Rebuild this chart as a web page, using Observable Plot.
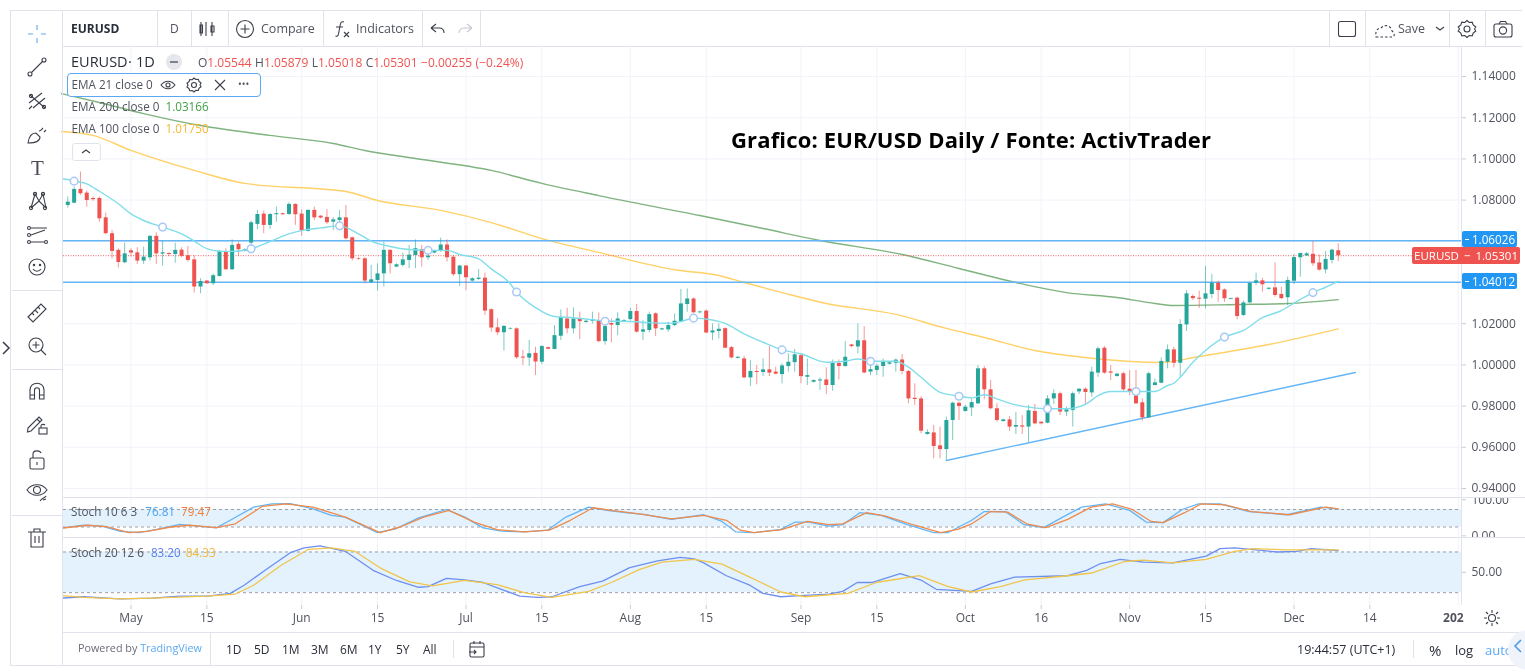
<!DOCTYPE html>
<html lang="en">
<head>
<meta charset="utf-8">
<title>EURUSD 1D</title>
<script src="https://cdn.jsdelivr.net/npm/d3@7"></script>
<script src="https://cdn.jsdelivr.net/npm/@observablehq/plot@0.6"></script>
<style>
  html, body { margin: 0; padding: 0; background: #fff; overflow: hidden; }
  #page { position: absolute; left: 0; top: 0; width: 1525px; height: 672px; overflow: hidden; font-family: 'Open Sans', sans-serif; color: #50535e; filter: blur(0.4px); }
  .panel { position: absolute; left: 0; overflow: hidden; }
  .panel svg { display: block; }
  .t { position: absolute; white-space: nowrap; line-height: 1; transform: translateY(-50%); font-size: 11.7px; }
  .h { position: absolute; height: 1px; background: #e0e3eb; }
  .v { position: absolute; width: 1px; background: #e0e3eb; }
  .tag { position: absolute; line-height: 16px; color: #fff; font-size: 11.7px; border-radius: 2px; text-align: center; }
  .ic { position: absolute; fill: none; stroke: #3c3f4a; stroke-width: 1.1; }
  #legendBox { position: absolute; left: 67px; top: 73px; width: 192px; height: 22px; border: 1px solid #5aa9f2; border-radius: 4px; background: #fff; }
  #note { position: absolute; left: 731px; top: 124px; font: bold 22px 'Open Sans', sans-serif; letter-spacing: 0.15px; color: #000; white-space: nowrap; }
</style>
</head>
<body>
<div id="page">
  <div id="main" class="panel" style="top:47px"></div>
  <div id="stoch1" class="panel" style="top:498px"></div>
  <div id="stoch2" class="panel" style="top:538px"></div>
  <div id="chrome"></div>
</div>

<script>
// daily candles
const opens = [1.0774,1.0785,1.0852,1.0834,1.0808,1.0808,1.0714,1.0637,1.0556,1.0496,1.0554,1.0544,1.0504,1.0520,1.0624,1.0538,1.0541,1.0536,1.0557,1.0530,
  1.0510,1.0378,1.0407,1.0394,1.0429,1.0548,1.0462,1.0585,1.0551,1.0591,1.0682,1.0732,1.0677,1.0729,1.0734,1.0730,1.0779,1.0732,1.0648,1.0750,
  1.0722,1.0716,1.0693,1.0701,1.0714,1.0617,1.0515,1.0515,1.0400,1.0410,1.0442,1.0556,1.0475,1.0483,1.0507,1.0531,1.0559,1.0520,1.0543,1.0551,
  1.0582,1.0523,1.0438,1.0480,1.0407,1.0415,1.0421,1.0268,1.0180,1.0156,1.0174,1.0175,1.0038,1.0033,1.0056,1.0013,1.0084,1.0075,1.0139,1.0223,
  1.0175,1.0223,1.0206,1.0212,1.0215,1.0113,1.0201,1.0191,1.0207,1.0220,1.0259,1.0159,1.0167,1.0248,1.0170,1.0170,1.0191,1.0210,1.0293,1.0320,
  1.0253,1.0261,1.0155,1.0162,1.0176,1.0084,1.0032,1.0029,0.9937,0.9968,0.9963,0.9976,0.9965,0.9953,0.9992,1.0011,1.0045,0.9940,0.9916,0.9922,
  0.9927,0.9900,1.0007,0.9992,1.0097,1.0087,1.0117,0.9965,0.9973,0.9992,1.0003,1.0008,1.0024,0.9968,0.9838,0.9835,0.9662,0.9670,0.9607,0.9589,
  0.9730,0.9814,0.9774,0.9791,0.9811,0.9981,0.9879,0.9787,0.9725,0.9733,0.9698,0.9704,0.9698,0.9774,0.9722,0.9717,0.9835,0.9860,0.9771,0.9779,
  0.9869,0.9882,0.9864,0.9960,1.0081,0.9966,0.9944,0.9957,0.9882,0.9882,0.9816,0.9743,0.9900,0.9911,1.0013,1.0073,1.0008,1.0194,1.0332,1.0324,
  1.0319,1.0342,1.0397,1.0364,1.0318,1.0324,1.0240,1.0301,1.0397,1.0408,1.0367,1.0374,1.0342,1.0326,1.0406,1.0520,1.0529,1.0537,1.0495,1.0461,
  1.0507,1.0554];
const highs = [1.0815,1.0863,1.0936,1.0844,1.0815,1.0815,1.0737,1.0653,1.0564,1.0591,1.0564,1.0569,1.0572,1.0628,1.0641,1.0601,1.0544,1.0591,1.0569,1.0575,
  1.0530,1.0418,1.0410,1.0442,1.0556,1.0564,1.0607,1.0596,1.0564,1.0698,1.0750,1.0747,1.0734,1.0766,1.0737,1.0787,1.0782,1.0753,1.0753,1.0766,
  1.0724,1.0753,1.0714,1.0750,1.0774,1.0620,1.0520,1.0520,1.0483,1.0491,1.0596,1.0559,1.0491,1.0543,1.0580,1.0607,1.0580,1.0556,1.0556,1.0616,
  1.0607,1.0531,1.0483,1.0483,1.0423,1.0463,1.0446,1.0272,1.0224,1.0191,1.0180,1.0180,1.0070,1.0119,1.0086,1.0094,1.0086,1.0191,1.0267,1.0275,
  1.0277,1.0256,1.0215,1.0256,1.0253,1.0199,1.0223,1.0253,1.0220,1.0275,1.0293,1.0215,1.0256,1.0253,1.0178,1.0207,1.0248,1.0366,1.0369,1.0325,
  1.0261,1.0267,1.0199,1.0199,1.0180,1.0089,1.0041,1.0041,1.0021,0.9997,1.0029,1.0089,0.9989,1.0005,1.0054,1.0075,1.0050,1.0029,0.9927,0.9937,
  0.9986,1.0024,1.0024,1.0113,1.0100,1.0199,1.0186,0.9997,1.0005,1.0029,1.0013,1.0029,1.0050,0.9973,0.9908,0.9846,0.9685,0.9706,0.9698,0.9746,
  0.9819,0.9819,0.9803,0.9835,0.9997,0.9992,0.9924,0.9811,0.9737,0.9749,0.9770,0.9754,0.9803,0.9808,0.9722,0.9851,0.9879,0.9868,0.9795,0.9868,
  0.9885,0.9889,0.9989,1.0086,1.0089,0.9997,0.9960,0.9965,0.9973,0.9973,0.9835,0.9965,0.9932,1.0034,1.0097,1.0086,1.0219,1.0361,1.0340,1.0358,
  1.0479,1.0439,1.0406,1.0369,1.0324,1.0329,1.0309,1.0402,1.0445,1.0421,1.0374,1.0495,1.0377,1.0426,1.0536,1.0542,1.0546,1.0599,1.0534,1.0550,
  1.0562,1.0588];
const lows = [1.0761,1.0782,1.0823,1.0766,1.0794,1.0693,1.0632,1.0515,1.0470,1.0491,1.0523,1.0488,1.0488,1.0504,1.0488,1.0480,1.0526,1.0494,1.0520,1.0499,
  1.0349,1.0345,1.0391,1.0386,1.0426,1.0458,1.0458,1.0526,1.0548,1.0564,1.0656,1.0637,1.0656,1.0693,1.0726,1.0726,1.0677,1.0624,1.0645,1.0701,
  1.0709,1.0682,1.0653,1.0653,1.0607,1.0504,1.0507,1.0394,1.0394,1.0358,1.0378,1.0442,1.0472,1.0475,1.0467,1.0467,1.0475,1.0507,1.0539,1.0546,
  1.0499,1.0429,1.0381,1.0361,1.0402,1.0410,1.0240,1.0159,1.0143,1.0067,1.0170,1.0027,0.9997,0.9993,0.9949,1.0002,1.0073,1.0073,1.0118,1.0151,
  1.0151,1.0123,1.0202,1.0199,1.0107,1.0096,1.0107,1.0142,1.0204,1.0212,1.0155,1.0118,1.0155,1.0138,1.0167,1.0159,1.0186,1.0207,1.0256,1.0248,
  1.0248,1.0151,1.0118,1.0126,1.0078,1.0029,1.0029,0.9932,0.9895,0.9903,0.9943,0.9943,0.9952,0.9908,0.9965,0.9965,0.9908,0.9900,0.9911,0.9876,
  0.9856,0.9872,0.9927,0.9989,1.0083,1.0054,0.9956,0.9948,0.9948,0.9940,1.0000,0.9965,0.9953,0.9811,0.9803,0.9665,0.9659,0.9544,0.9544,0.9536,
  0.9633,0.9730,0.9770,0.9749,0.9808,0.9831,0.9782,0.9722,0.9722,0.9677,0.9662,0.9662,0.9622,0.9709,0.9709,0.9714,0.9808,0.9754,0.9749,0.9698,
  0.9856,0.9803,0.9843,0.9940,0.9954,0.9924,0.9940,0.9868,0.9851,0.9808,0.9727,0.9741,0.9897,0.9908,0.9981,0.9986,0.9937,1.0162,1.0313,1.0274,
  1.0272,1.0321,1.0304,1.0304,1.0316,1.0219,1.0235,1.0296,1.0385,1.0353,1.0364,1.0329,1.0317,1.0288,1.0390,1.0426,1.0526,1.0478,1.0455,1.0442,
  1.0491,1.0502];
const closes = [1.0790,1.0852,1.0831,1.0798,1.0802,1.0709,1.0637,1.0551,1.0497,1.0539,1.0543,1.0504,1.0523,1.0624,1.0539,1.0544,1.0536,1.0556,1.0527,1.0507,
  1.0378,1.0405,1.0394,1.0433,1.0551,1.0462,1.0580,1.0559,1.0559,1.0690,1.0730,1.0677,1.0730,1.0734,1.0729,1.0779,1.0729,1.0650,1.0750,1.0714,
  1.0713,1.0690,1.0704,1.0714,1.0612,1.0515,1.0512,1.0407,1.0413,1.0442,1.0556,1.0491,1.0486,1.0510,1.0533,1.0564,1.0520,1.0528,1.0550,1.0582,
  1.0520,1.0438,1.0480,1.0423,1.0418,1.0421,1.0261,1.0179,1.0156,1.0187,1.0177,1.0035,1.0033,1.0054,1.0014,1.0089,1.0076,1.0142,1.0231,1.0175,
  1.0223,1.0210,1.0212,1.0220,1.0113,1.0186,1.0193,1.0223,1.0215,1.0259,1.0159,1.0170,1.0244,1.0175,1.0175,1.0191,1.0212,1.0296,1.0320,1.0253,
  1.0257,1.0155,1.0165,1.0173,1.0081,1.0034,1.0037,0.9937,0.9968,0.9963,0.9976,0.9960,0.9955,0.9995,1.0013,1.0049,0.9943,0.9948,0.9924,0.9927,
  0.9900,1.0008,0.9992,1.0037,1.0089,1.0117,0.9961,0.9977,0.9994,1.0013,1.0010,1.0023,0.9968,0.9835,0.9832,0.9678,0.9672,0.9604,0.9589,0.9730,
  0.9814,0.9798,0.9795,0.9817,0.9981,0.9879,0.9787,0.9730,0.9733,0.9698,0.9706,0.9698,0.9777,0.9714,0.9714,0.9835,0.9860,0.9771,0.9782,0.9860,
  0.9882,0.9866,0.9965,1.0078,0.9960,0.9960,0.9955,0.9879,0.9871,0.9811,0.9743,0.9957,0.9913,1.0017,1.0073,1.0008,1.0196,1.0345,1.0322,1.0319,
  1.0345,1.0397,1.0361,1.0321,1.0322,1.0235,1.0301,1.0395,1.0408,1.0389,1.0372,1.0337,1.0322,1.0410,1.0521,1.0541,1.0539,1.0491,1.0460,1.0512,
  1.0557,1.0530];

// moving averages as [bar, price]
const ema21 = [[-1,1.0905],[0,1.0900],[1,1.0892],[3,1.0879],[5,1.0843],[8,1.0782],[10,1.0733],[12,1.0701],[15,1.0669],[18,1.0636],[20,1.0601],[22,1.0564],[24,1.0552],[26,1.0551],[29,1.0564],[32,1.0599],[35,1.0636],[37,1.0652],[40,1.0665],[43,1.0675],[46,1.0636],[48,1.0601],[51,1.0575],[54,1.0560],[57,1.0556],[60,1.0556],[62,1.0536],[65,1.0515],[67,1.0466],[70,1.0394],[71,1.0354],[74,1.0278],[77,1.0235],[80,1.0229],[84,1.0216],[85,1.0212],[88,1.0212],[91,1.0207],[95,1.0202],[97,1.0210],[99,1.0227],[102,1.0218],[104,1.0202],[107,1.0151],[110,1.0110],[113,1.0073],[116,1.0054],[120,1.0013],[123,1.0018],[125,1.0029],[127,1.0018],[131,1.0018],[133,0.9989],[135,0.9940],[138,0.9867],[140,0.9853],[141,0.9848],[143,0.9840],[145,0.9855],[147,0.9835],[150,0.9806],[152,0.9795],[155,0.9787],[158,0.9787],[161,0.9808],[163,0.9851],[165,0.9871],[169,0.9871],[172,0.9871],[174,0.9900],[175,0.9911],[176,0.9940],[178,1.0013],[180,1.0070],[183,1.0135],[186,1.0167],[189,1.0229],[192,1.0264],[194,1.0300],[197,1.0351],[199,1.0377],[201,1.0405]];
const ema100 = [[-1,1.1133],[4,1.1114],[10,1.1041],[20,1.0944],[28,1.0881],[44,1.0842],[49,1.0798],[59,1.0750],[67,1.0691],[75,1.0613],[84,1.0546],[96,1.0462],[103,1.0434],[107,1.0400],[113,1.0351],[120,1.0298],[131,1.0245],[139,1.0177],[145,1.0133],[153,1.0070],[161,1.0036],[173,1.0012],[179,1.0041],[190,1.0099],[201,1.0175]];
const ema200 = [[-1,1.1317],[5,1.1274],[12,1.1220],[21,1.1162],[32,1.1114],[42,1.1075],[47,1.1041],[55,1.1002],[67,1.0944],[75,1.0881],[84,1.0822],[100,1.0725],[110,1.0662],[119,1.0604],[132,1.0536],[141,1.0468],[150,1.0400],[158,1.0351],[166,1.0327],[172,1.0298],[175,1.0288],[185,1.0293],[193,1.0298],[201,1.0317]];
const ema21Markers = [1,15,29,43,57,71,85,99,113,127,141,155,169,183,197];

// drawings
const levels = [1.06026, 1.04012];
const lastPrice = 1.05301;
const trend = [[139,0.9536],[203.7,0.9963]];

// stochastics as [bar, value]
const stoch10K = [[-1,16],[2.5,26],[5.4,23],[8.3,5],[11.2,1],[14.1,12],[17.7,29],[20.6,23],[23.5,17],[25.7,43],[29.4,88],[32.3,99],[35.2,100],[38.8,82],[41.7,60],[43.9,54],[49,1],[51.9,14],[55.5,51],[59.9,80],[62.8,54],[65.7,17],[68.6,6],[72.2,3],[75.9,9],[78.8,54],[82.4,88],[85.3,77],[88.2,69],[91.1,63],[95.5,46],[100.6,62],[103.5,39],[105.7,3],[108.6,1],[112.8,12],[115.1,37],[117.3,37],[120.4,23],[122.6,28],[125.3,69],[128.7,60],[132.5,31],[137,1],[139.3,1],[143,43],[145,73],[148.3,73],[151.3,28],[154.4,18],[157.4,54],[160.4,88],[164.2,99],[168,77],[170.6,37],[173.3,35],[176.3,80],[178.9,99],[182.3,99],[186.9,73],[192.9,62],[198.2,88],[201,81]];
const stoch10D = [[-1,16],[3.2,26],[6.1,21],[9.7,1],[12.6,5],[16.3,20],[19.2,26],[23.5,18],[26.5,31],[30.8,91],[34.5,99],[38.8,88],[43.9,54],[49.4,1],[52.6,20],[56.3,54],[60.3,77],[64.3,37],[67.9,11],[72.2,3],[76.2,9],[79.5,43],[83.1,86],[86,77],[90.4,65],[95.5,48],[100.6,60],[104.2,43],[106.4,9],[108.6,1],[112.8,10],[117,39],[120.4,28],[122.6,31],[126.4,69],[129.4,57],[134,26],[138.1,1],[140.8,12],[143,31],[146,73],[148.7,71],[151.7,31],[154.7,18],[158.2,46],[161.9,88],[165.3,99],[168.4,80],[171.4,39],[173.3,35],[176.7,69],[179.3,99],[183.1,96],[187.3,73],[193.3,62],[199,88],[201,82]];
const stoch20K = [[-1,12],[2.5,14],[8.3,11],[13.4,12],[17.7,15],[22.1,15],[25.7,19],[27.9,31],[31.5,55],[35.2,79],[37.4,86],[39.9,89],[43.9,81],[48.3,53],[52,38],[55.5,28],[57,29],[59.9,41],[62.8,39],[65.7,35],[68.6,25],[71.5,15],[74.4,13],[76.6,14],[81,29],[84.6,37],[88.9,57],[93.3,67],[96.9,72],[99.1,70],[100.6,64],[104.2,45],[107.9,31],[110,19],[112.8,14],[116.6,16],[120.4,18],[122.6,22],[124.9,35],[127.2,35],[131.7,48],[135.1,38],[137.4,25],[143,22],[146,33],[149.8,43],[158.2,45],[161.2,53],[163.4,63],[166.5,69],[170.2,65],[174.8,64],[180.1,74],[182.3,85],[184.6,86],[191.4,80],[194.4,81],[196.7,85],[201,82]];
const stoch20D = [[-1,16],[2.5,13],[8.3,11],[13.4,12],[22.1,15],[26.5,18],[29.4,31],[33.7,60],[38.1,84],[41.7,86],[45.4,81],[49.7,55],[54.1,36],[57.7,30],[62.8,38],[67.9,32],[72.2,20],[76.6,13],[82.4,22],[86,35],[90.4,54],[94,65],[99.1,69],[103.5,62],[107.9,43],[112.8,21],[116.6,14],[123.4,19],[127.9,35],[134.7,45],[139.3,29],[143,21],[147.6,29],[151.4,39],[158.2,45],[162,49],[167.2,66],[170.2,68],[174.8,64],[180.1,69],[184.6,81],[187.6,85],[192.9,83],[201,83]];
const stochBand = [20, 80];

// axes
const priceTicks = [0.94,0.96,0.98,1.00,1.02,1.04,1.06,1.08,1.10,1.12,1.14];
const priceTickLabels = [0.94,0.96,0.98,1.00,1.02,1.08,1.10,1.12,1.14]; // 1.04 and 1.06 sit under the level tags
const timeBars = [10,22,37,49,63,75,89,101,116,128,142,154,168,180,194,206];
const timeLabels = ["May","15","Jun","15","Jul","15","Aug","15","Sep","15","Oct","16","Nov","15","Dec","14"];
const nextYearBar = 220;
const barDomain = [-0.68, 220.5];

const up = "#26a69a", down = "#ef5350", gridColor = "#f0f3fa", axisText = "#50535e";
const candles = opens.map((o, i) => ({i, o, h: highs[i], l: lows[i], c: closes[i]}));
const W = 1525, marginLeft = 63, marginRight = 64;
const px = d => d[0], py = d => d[1];

function base(height, yDomain, yTicks, marks, extra = {}) {
  return Plot.plot({
    width: W, height, marginLeft, marginRight, marginTop: 0, marginBottom: extra.marginBottom || 0,
    style: {fontSize: "12px", fontFamily: "'Open Sans', sans-serif", background: "transparent"},
    x: {domain: barDomain, axis: null},
    y: {domain: yDomain, axis: null},
    marks: [
      Plot.gridX(timeBars.concat(nextYearBar), {stroke: gridColor, strokeOpacity: 1}),
      Plot.gridY(yTicks, {stroke: gridColor, strokeOpacity: 1}),
      ...marks,
      Plot.ruleX([barDomain[1]], {stroke: "#e0e3eb"})
    ]
  });
}

const main = base(450, [0.93563, 1.15408], priceTicks, [
  Plot.line(ema200, {x: px, y: py, stroke: "#7fb37f", strokeWidth: 1.4, curve: "monotone-x"}),
  Plot.line(ema100, {x: px, y: py, stroke: "#ffd166", strokeWidth: 1.4, curve: "monotone-x"}),
  Plot.ruleY(levels, {stroke: "#64b5f6", strokeWidth: 1.3}),
  Plot.ruleY([lastPrice], {stroke: "#ef5350", strokeWidth: 1, strokeDasharray: "1,1.5", strokeOpacity: 0.9}),
  Plot.line(trend, {x: px, y: py, stroke: "#64b5f6", strokeWidth: 1.4}),
  Plot.ruleX(candles, {x: "i", y1: "l", y2: "h", stroke: d => d.c >= d.o ? up : down, strokeWidth: 1, strokeOpacity: 0.6}),
  Plot.ruleX(candles, {x: "i", y1: "o", y2: "c", stroke: d => d.c >= d.o ? up : down, strokeWidth: 4}),
  Plot.line(ema21, {x: px, y: py, stroke: "#80deea", strokeWidth: 1.4, curve: "monotone-x", clip: true}),
  Plot.dot(ema21.filter(d => ema21Markers.includes(d[0])), {x: px, y: py, r: 3.8, fill: "#fff", stroke: "#a8c8f5", strokeWidth: 1.5}),
  Plot.axisY(priceTickLabels, {anchor: "right", tickFormat: d3.format(".5f"), tickSize: 4, tickPadding: 6, stroke: "#c8ccd6", color: axisText, label: null})
]);
document.getElementById("main").appendChild(main);

const s1 = base(39, [-16, 117.7], [], [
  Plot.rect([stochBand], {x1: barDomain[0], x2: barDomain[1], y1: d => d[0], y2: d => d[1], fill: "#e3f2fd"}),
  Plot.ruleY(stochBand, {stroke: "#9a9da8", strokeDasharray: "3,3", strokeWidth: 1}),
  Plot.line(stoch10K, {x: px, y: py, stroke: "#64b5f6", strokeWidth: 1.3, clip: true}),
  Plot.line(stoch10D, {x: px, y: py, stroke: "#f08a4b", strokeWidth: 1.3, clip: true}),
  Plot.axisY([100], {anchor: "right", tickFormat: d3.format(".2f"), tickSize: 4, tickPadding: 6, stroke: "#c8ccd6", color: axisText, label: null, dy: -4}),
  Plot.axisY([0], {anchor: "right", tickFormat: d3.format(".2f"), tickSize: 4, tickPadding: 6, stroke: "#c8ccd6", color: axisText, label: null, dy: 3})
]);
document.getElementById("stoch1").appendChild(s1);

const s2 = base(94, [1.1, 99.9], [], [
  Plot.rect([stochBand], {x1: barDomain[0], x2: barDomain[1], y1: d => d[0], y2: d => d[1], fill: "#e3f2fd"}),
  Plot.ruleY(stochBand, {stroke: "#9a9da8", strokeDasharray: "3,3", strokeWidth: 1}),
  Plot.line(stoch20K, {x: px, y: py, stroke: "#6d8ff0", strokeWidth: 1.3, clip: true}),
  Plot.line(stoch20D, {x: px, y: py, stroke: "#f0c54a", strokeWidth: 1.3, clip: true}),
  Plot.axisY([50], {anchor: "right", tickFormat: d3.format(".2f"), tickSize: 4, tickPadding: 6, stroke: "#c8ccd6", color: axisText, label: null}),
  Plot.axisX(timeBars, {anchor: "bottom", tickFormat: d => timeLabels[timeBars.indexOf(d)], tickSize: 4, tickPadding: 4, stroke: "#c8ccd6", color: axisText, label: null}),
  Plot.axisX([nextYearBar], {anchor: "bottom", tickFormat: () => "202", tickSize: 0, tickPadding: 8, color: axisText, fontWeight: "bold", label: null, dx: -5})
], {marginBottom: 27});
document.getElementById("stoch2").appendChild(s2);

// terminal chrome around the chart
const chrome = document.getElementById("chrome");
const add = html => chrome.insertAdjacentHTML("beforeend", html);
const text = (x, y, s, style = "") => add(`<div class="t" style="left:${x}px;top:${y}px;${style}">${s}</div>`);
const hline = (x, y, w) => add(`<div class="h" style="left:${x}px;top:${y}px;width:${w}px"></div>`);
const vline = (x, y, h) => add(`<div class="v" style="left:${x}px;top:${y}px;height:${h}px"></div>`);
const icon = (cx, cy, inner, extra = "") => add(`<svg class="ic" style="left:${cx - 12}px;top:${cy - 12}px;${extra}" width="24" height="24" viewBox="0 0 24 24">${inner}</svg>`);

hline(10, 10, 1512); hline(62, 46, 1460); hline(10, 665, 1515);
hline(62, 497, 1463); hline(62, 537, 1463); hline(62, 632, 1463);
hline(12, 290, 50); hline(12, 369, 50); hline(12, 515, 50);
vline(10, 10, 655); vline(62, 10, 655);
[157, 191, 228, 323, 422, 480, 1329, 1365, 1449, 1485].forEach(x => vline(x, 10, 36));
vline(210, 632, 33); vline(1413, 640, 18); vline(453, 640, 18);

// top bar
text(71, 29, "EURUSD", "font-weight:700;font-size:12px;color:#2a2e39");
text(170, 29, "D", "font-size:12px");
icon(209, 29, '<path d="M4 5v14M9 5v14M3 8h2.5v8H3zM15 5v14M14 9h3v6h-3z"/>');
icon(245, 29, '<circle cx="12" cy="12" r="8.5"/><path d="M12 7.5v9M7.5 12h9"/>');
text(261, 29, "Compare", "font-size:12.5px");
icon(342, 29, '<path d="M14 5c-3-1-3.5 1-4 4l-1.5 8c-.4 2-1.5 2.5-3 2M6 10h7M14 15l5 5M19 15l-5 5"/>');
text(356, 29, "Indicators", "font-size:12.5px");
icon(438, 29, '<path d="M5 11l5-4M5 11l5 4M5 11h8c3 0 5 2 5 5"/>');
icon(465, 29, '<path d="M19 11l-5-4M19 11l-5 4M19 11h-8c-3 0-5 2-5 5"/>', "stroke:#c5c8d0;");
icon(1347, 29, '<rect x="3.5" y="4.5" width="17" height="15" rx="2"/>');
icon(1384, 29, '<path d="M4 20h16c3 0 3-4 0-6-1-6-8-7-11-3-4 0-6 4-5 9z" stroke-dasharray="2.5 2"/>');
text(1398, 29, "Save", "font-size:12.5px");
icon(1440, 29, '<path d="M8 10l4 3 4-3"/>');
icon(1467, 29, '<circle cx="12" cy="12" r="3"/><path d="M12 3.5l2.2 2 3-.3 1 2.8 2.6 2-1.3 2 1.3 2-2.6 2-1 2.8-3-.3-2.2 2-2.2-2-3 .3-1-2.8-2.6-2 1.3-2-1.3-2 2.6-2 1-2.8 3 .3z"/>');
icon(1503, 29, '<rect x="3" y="7" width="18" height="13" rx="2"/><circle cx="12" cy="13.5" r="3.6"/><path d="M8 7l1.5-2.5h5L16 7"/>');

// left drawing tools
icon(37, 34, '<path d="M12 3v5M12 16v5M3 12h5M16 12h5"/>', "stroke:#60a9ef;");
icon(37, 67, '<path d="M6.5 17.5L17.5 6.5"/><circle cx="5" cy="19" r="2"/><circle cx="19" cy="5" r="2"/>');
icon(37, 101, '<path d="M4 14L17 4M8 19L20 9M5 6l15 13M4 20l3-3"/><circle cx="6" cy="7" r="1.6"/><circle cx="19" cy="18" r="1.6"/>');
icon(37, 135, '<path d="M3 20c1-7 4-10 8-10l4 4c0 4-3 6-12 6zM14 8c2 0 3-2 4-3M19 9l2-2"/>');
add('<div class="t" style="left:31px;top:168px;font:300 21px \'Liberation Serif\',serif;color:#4a4d58">T</div>');
icon(37, 201, '<path d="M6 19L10 5l4 7 4-7 3 14M6 19l8-7 7 7"/><circle cx="6" cy="19" r="1.6"/><circle cx="10" cy="5" r="1.6"/><circle cx="18" cy="5" r="1.6"/><circle cx="20" cy="19" r="1.6"/>');
icon(37, 235, '<circle cx="4" cy="5" r="1.5"/><circle cx="4" cy="12" r="1.5"/><circle cx="4" cy="19" r="1.5"/><path d="M6 5h16M6 19h13M6 12l14-5"/><circle cx="21" cy="19" r="1.5"/>');
icon(37, 267, '<circle cx="12" cy="12" r="8"/><circle cx="9" cy="10" r=".7"/><circle cx="15" cy="10" r=".7"/><path d="M8 14c2 3 6 3 8 0"/>');
icon(37, 313, '<path d="M3 16L16 3l5 5L8 21zM7 12l2 2M10 9l3 3M13 6l2 2"/>');
icon(37, 346, '<circle cx="11" cy="11" r="7"/><path d="M16 16l5 5M11 7.5v7M7.5 11h7"/>');
icon(37, 391, '<path d="M5 20V11c0-9 14-9 14 0v9h-4.5v-9c0-3-5-3-5 0v9zM5 16h4.5M14.5 16H19"/>');
icon(37, 425, '<path d="M3 15L14 4l3 3L6 18l-3.5 1zM12 6l3 3"/><rect x="14" y="15" width="8" height="6"/><path d="M16 15v-2c0-2 3-2 4-1"/>');
icon(37, 460, '<rect x="5" y="10" width="14" height="11" rx="1.5"/><path d="M8 10V6c0-4 7-4 8-1M12 14v3"/>');
icon(37, 492, '<path d="M2 10c5-7 15-7 20 0-5 7-15 7-20 0z"/><circle cx="12" cy="10" r="3.5"/><path d="M15 21c2-3 5-3 6-5M18 20l3-1"/>');
icon(37, 538, '<path d="M6 6h12v15H6zM3 6h18M9 6V3h6v3M10 10v7M14 10v7"/>');
icon(6, 348, '<path d="M9 6l6 6-6 6"/>', "stroke-width:1.5;");

// legends
text(71, 62, "EURUSD", "font-size:14.5px;color:#2a2e39");
text(128, 62, "·", "font-size:14.5px;color:#2a2e39");
text(136, 62, "1D", "font-size:14.5px;color:#2a2e39");
add('<div style="position:absolute;left:166px;top:54px;width:16px;height:16px;border-radius:8px;background:#e5e7ec"></div><div style="position:absolute;left:170px;top:61px;width:8px;height:2px;background:#80838d"></div>');
const red = "color:#ef5350;";
text(198, 63, `O<span style="${red}">1.05544</span> H<span style="${red}">1.05879</span> L<span style="${red}">1.05018</span> C<span style="${red}">1.05301</span> <span style="${red}">−0.00255 (−0.24%)</span>`, "font-size:12px;word-spacing:0.3px");
add('<div id="legendBox"></div>');
text(71.5, 85, "EMA 21 close 0");
icon(168, 85, '<path d="M5 12c4-5 10-5 14 0-4 5-10 5-14 0z"/><circle cx="12" cy="12" r="2"/>');
icon(194, 85, '<circle cx="12" cy="12" r="2.5"/><path d="M12 5l1.8 1.5 2.5-.2.7 2.2 2 1.5-1 1.9 1 1.9-2 1.5-.7 2.2-2.5-.2L12 19l-1.8-1.5-2.5.2-.7-2.2-2-1.5 1-1.9-1-1.9 2-1.5.7-2.2 2.5.2z"/>');
icon(220, 85, '<path d="M7 7l10 10M17 7L7 17"/>');
text(238, 84, "•••", "font-size:10px");
text(71.5, 107, `EMA 200 close 0 <span style="color:#43a047;margin-left:3px">1.03166</span>`);
text(71.5, 129, `EMA 100 close 0 <span style="color:#f7b733;margin-left:3px">1.01750</span>`);
add('<div style="position:absolute;left:72px;top:143px;width:27px;height:16px;border:1px solid #e0e3eb;border-radius:3px;background:#fff"></div>');
icon(85.5, 151, '<path d="M8 14l4-3 4 3"/>');
text(71, 512, `Stoch 10 6 3 <span style="color:#4ba3ef;margin-left:5px">76.81</span> <span style="color:#ef7c3a;margin-left:3px">79.47</span>`);
text(71, 553, `Stoch 20 12 6 <span style="color:#5b7fe8;margin-left:4px">83.20</span> <span style="color:#f2b93a;margin-left:2px">84.33</span>`);

// price tags
const tagDash = top => add(`<div style="position:absolute;left:1465px;top:${top}px;width:4px;height:1px;background:#fff"></div>`);
add('<div class="tag" style="left:1462px;top:231px;width:47px;height:16px;padding-left:8px;background:#2196f3">1.06026</div>');
add('<div class="tag" style="left:1462px;top:273px;width:47px;height:16px;padding-left:8px;background:#2196f3">1.04012</div>');
tagDash(239); tagDash(281);
add('<div class="tag" style="left:1412px;top:247px;width:108px;height:17px;line-height:17px;font-size:11.5px;word-spacing:2px;background:#ef5350">EURUSD − 1.05301</div>');

// annotation
add('<div id="note">Grafico: EUR/USD Daily / Fonte: ActivTrader</div>');

// bottom bar
text(78, 648, `Powered by <span style="color:#5aa9f2">TradingView</span>`, "font-size:10.8px;color:#6a6d78");
["1D","5D","1M","3M","6M","1Y","5Y","All"].forEach((s, i) => text([226,254,282,311,340,368,396,423][i], 650, s, "font-size:12px;color:#2a2e39"));
icon(477, 649, '<rect x="5" y="6" width="14" height="14" rx="1.5"/><path d="M5 10h14M9 4v3M15 4v3M4 15h7M9 13l2 2-2 2"/>');
text(1297, 650, "19:44:57 (UTC+1)", "font-size:12.5px;color:#2a2e39");
text(1429, 650, "%", "font-size:15px;color:#2a2e39");
text(1455, 650, "log", "font-size:13px;color:#2a2e39");
text(1485, 650, "auto", "font-size:13px;color:#5aa9f2");
add('<div style="position:absolute;left:1508px;top:630px;width:40px;height:40px;border-radius:20px;background:#f0f3fa"></div>');
icon(1519, 646, '<path d="M14 6l-6 6 6 6"/>', "stroke:#4a9bea;stroke-width:1.6;");
icon(1492, 618, '<circle cx="12" cy="12" r="3.5"/><path d="M12 4v3M12 17v3M4 12h3M17 12h3M6 6l2 2M16 16l2 2M18 6l-2 2M8 16l-2 2"/>');
</script>
</body>
</html>
